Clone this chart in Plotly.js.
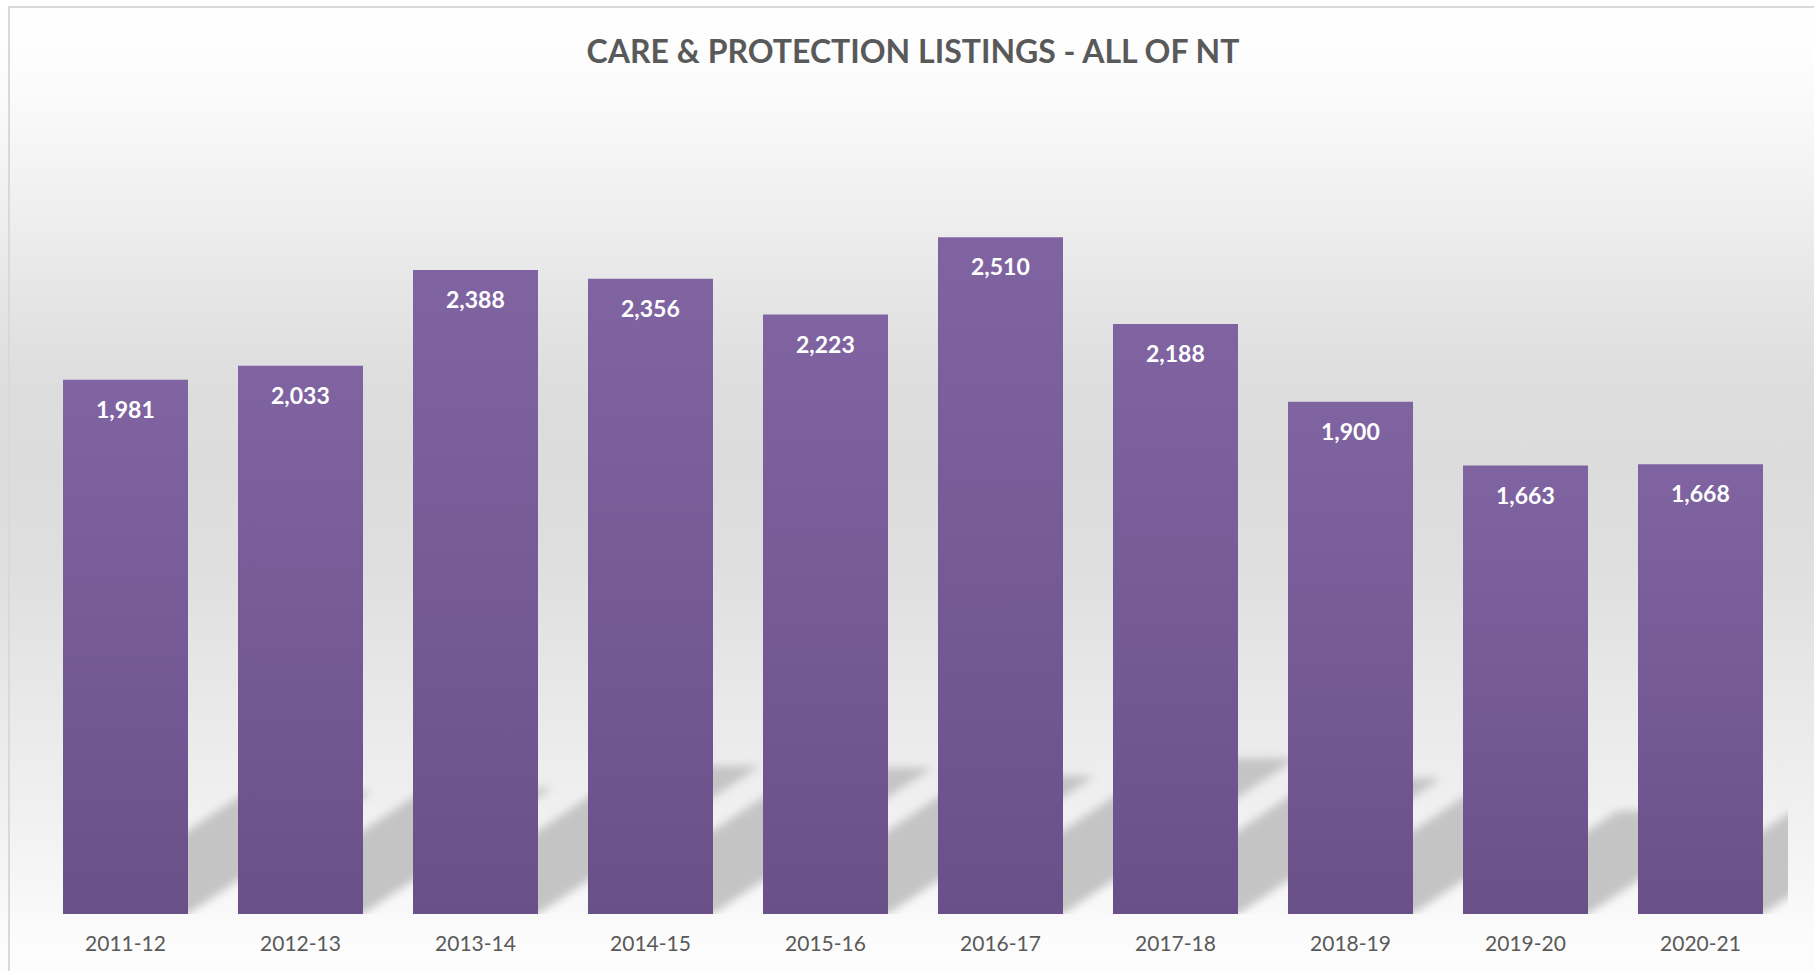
<!DOCTYPE html>
<html>
<head>
<meta charset="utf-8">
<script src="https://cdn.plot.ly/plotly-3.0.1.min.js"></script>
<style>
html,body{margin:0;padding:0;background:#ffffff;}
#wrap{position:relative;width:1814px;height:971px;overflow:hidden;
  background:linear-gradient(to bottom,#ffffff 0px,#fdfdfd 60px,#fafafa 100px,#f0f0f0 200px,#e5e5e5 300px,#dddddd 390px,#dcdcdc 470px,#dfdfdf 570px,#e7e7e7 680px,#eeeeee 780px,#f6f6f6 880px,#fbfbfb 930px,#fdfdfd 971px);}
#chart{position:absolute;left:0;top:0;width:1814px;height:971px;}
#frame{position:absolute;left:8px;top:6px;width:1830px;height:990px;border-left:2px solid #d9d9d9;border-top:2px solid #d9d9d9;pointer-events:none;}
</style>
</head>
<body>
<div id="wrap">
  <div id="chart"></div>
  <div id="frame"></div>
</div>
<script>
// ---- data ----
const years = ['2011-12','2012-13','2013-14','2014-15','2015-16','2016-17','2017-18','2018-19','2019-20','2020-21'];
const listings = [1981, 2033, 2388, 2356, 2223, 2510, 2188, 1900, 1663, 1668];
const chartTitle = 'CARE &amp; PROTECTION LISTINGS - ALL OF NT';

// ---- build ----
const idx = years.map((_, i) => i);
const FONT = 'Lato, "Open Sans", sans-serif';

const trace = {
  type: 'bar',
  x: idx,
  y: listings,
  marker: {color: '#755b96', line: {width: 0}},
  hoverinfo: 'skip'
};

// perspective shadow parameters (fraction of bar height)
const HALF = 0.357, SX = 0.000531, SY = 0.23;
const shapes = listings.map((v, i) => ({
  type: 'path', xref: 'x', yref: 'y', layer: 'below',
  path: `M${i - HALF},0 L${i + HALF},0 L${i + HALF + SX * v},${SY * v} L${i - HALF + SX * v},${SY * v} Z`,
  fillcolor: '#c4c4c4', line: {width: 0}
}));

const annotations = listings.map((v, i) => ({
  x: i, y: v, xref: 'x', yref: 'y',
  text: v.toLocaleString('en-US'),
  showarrow: false, yanchor: 'middle', yshift: -29,
  font: {family: FONT, size: 23, color: '#ffffff', weight: 'bold'}
}));

const layout = {
  width: 1814, height: 971,
  margin: {l: 38, r: 26, t: 105, b: 57, pad: 0},
  paper_bgcolor: 'rgba(0,0,0,0)',
  plot_bgcolor: 'rgba(0,0,0,0)',
  bargap: 0.2857,
  showlegend: false,
  title: {
    text: chartTitle,
    font: {family: FONT, size: 32, color: '#595959', weight: 'bold'},
    x: 0.5, xref: 'paper', xanchor: 'center',
    y: 1 - 52 / 971, yref: 'container', yanchor: 'middle'
  },
  xaxis: {
    range: [-0.5, 9.5], tickvals: idx, ticktext: years,
    showgrid: false, zeroline: false, ticks: '', showline: false,
    ticklabelstandoff: 15,
    tickfont: {family: FONT, size: 21, color: '#595959'},
    fixedrange: true
  },
  yaxis: {range: [0, 3000], visible: false, fixedrange: true},
  shapes: shapes,
  annotations: annotations
};

Plotly.newPlot('chart', [trace], layout, {staticPlot: true, displayModeBar: false}).then(gd => {
  const ns = 'http://www.w3.org/2000/svg';
  const svg = gd.querySelector('.main-svg');
  let defs = svg.querySelector('defs');
  if (!defs) { defs = document.createElementNS(ns, 'defs'); svg.insertBefore(defs, svg.firstChild); }
  const lg = document.createElementNS(ns, 'linearGradient');
  lg.setAttribute('id', 'barGrad');
  lg.setAttribute('x1', '0'); lg.setAttribute('y1', '0');
  lg.setAttribute('x2', '0'); lg.setAttribute('y2', '1');
  [['0', '#8064a2'], ['1', '#6a5089']].forEach(([o, c]) => {
    const s = document.createElementNS(ns, 'stop');
    s.setAttribute('offset', o); s.setAttribute('stop-color', c);
    lg.appendChild(s);
  });
  defs.appendChild(lg);
  const f = document.createElementNS(ns, 'filter');
  f.setAttribute('id', 'shBlur');
  f.setAttribute('x', '-20%'); f.setAttribute('y', '-20%');
  f.setAttribute('width', '140%'); f.setAttribute('height', '140%');
  const g = document.createElementNS(ns, 'feGaussianBlur');
  g.setAttribute('stdDeviation', '4.5');
  f.appendChild(g);
  defs.appendChild(f);
  gd.querySelectorAll('.barlayer .point path').forEach(p => { p.style.fill = 'url(#barGrad)'; });
  gd.querySelectorAll('.shapelayer path').forEach(p => { p.setAttribute('filter', 'url(#shBlur)'); });
});
</script>
</body>
</html>
